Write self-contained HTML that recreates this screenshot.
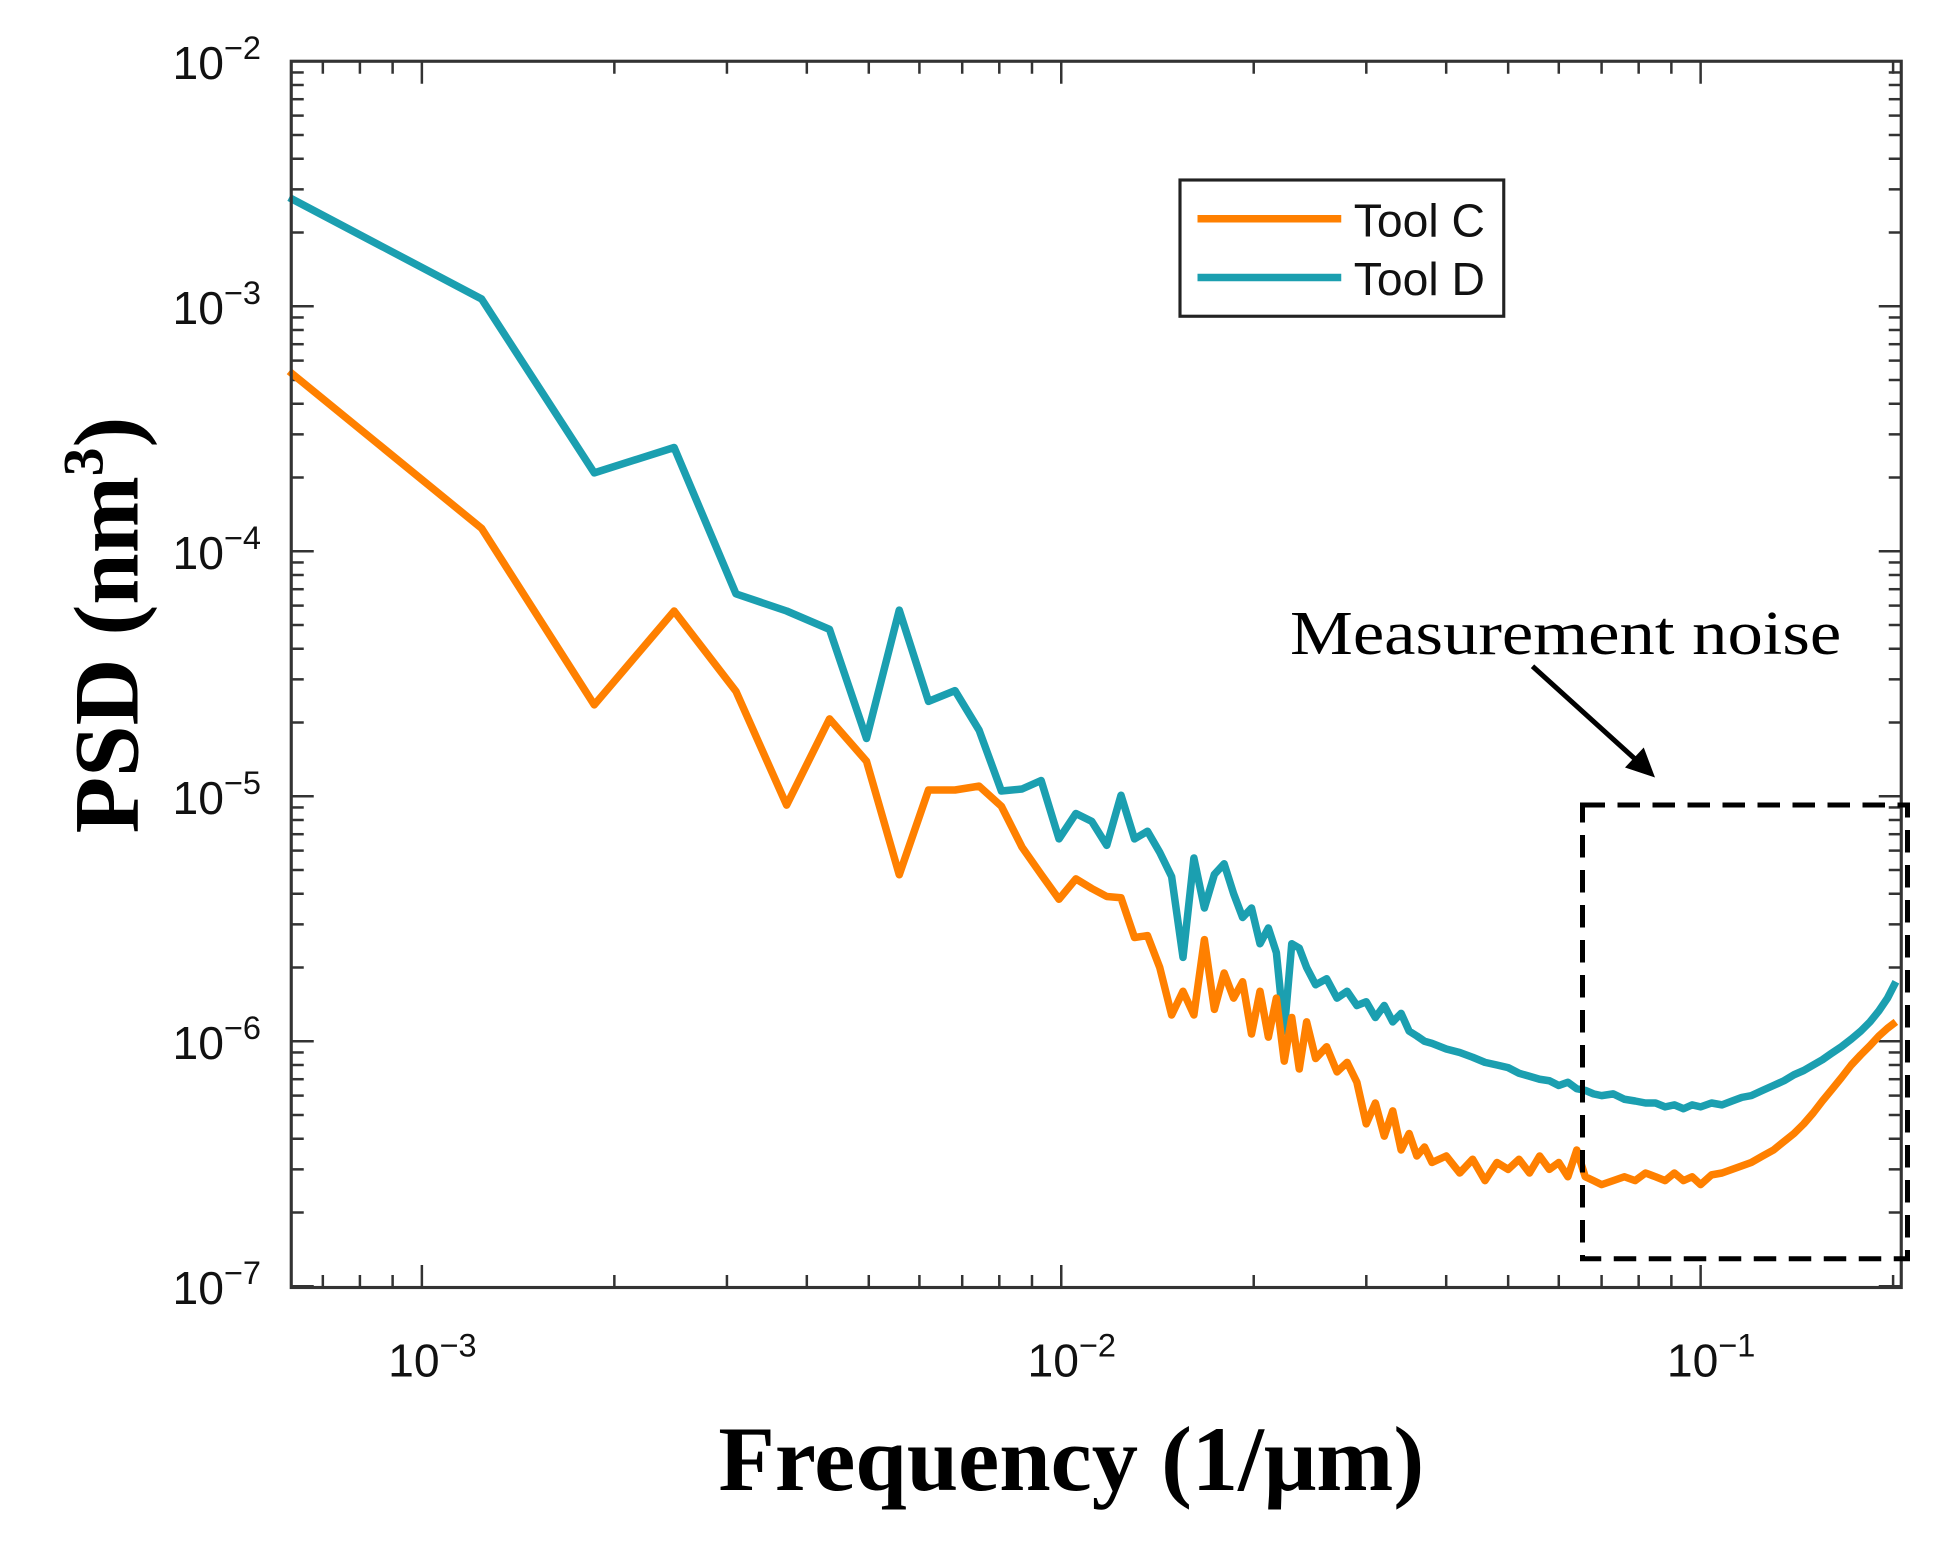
<!DOCTYPE html>
<html><head><meta charset="utf-8"><style>
html,body{margin:0;padding:0;background:#fff;}
svg{display:block;}
</style></head><body>
<svg id="chart" width="1950" height="1546" viewBox="0 0 1560 1236.8" xmlns="http://www.w3.org/2000/svg">
<rect width="1560" height="1236.8" fill="#fff"/>
<g id="ticks"></g>
<g id="series"></g>
<rect x="233" y="49" width="1288" height="981" fill="none" stroke="#333" stroke-width="2.5"/>
<g id="labels" font-family="Liberation Sans, sans-serif" font-size="37" fill="#111"></g>
<text x="857" y="1192" text-anchor="middle" font-family="Liberation Serif, serif" font-weight="bold" font-size="74">Frequency (1/μm)</text>
<text transform="translate(110,500) rotate(-90)" text-anchor="middle" font-family="Liberation Serif, serif" font-weight="bold" font-size="74">PSD (nm<tspan font-size="46" dy="-28">3</tspan><tspan dy="28">)</tspan></text>
<g>
<rect x="944" y="144" width="259" height="109" fill="#fff" stroke="#222" stroke-width="2.5"/>
<line x1="958" y1="175" x2="1073" y2="175" stroke="#ff8000" stroke-width="6"/>
<text x="1083" y="189" font-family="Liberation Sans, sans-serif" font-size="37" fill="#111">Tool C</text>
<line x1="958" y1="222" x2="1073" y2="222" stroke="#1b9fb0" stroke-width="6"/>
<text x="1083" y="236" font-family="Liberation Sans, sans-serif" font-size="37" fill="#111">Tool D</text>
</g>
<rect x="1266" y="644" width="260" height="363" fill="none" stroke="#000" stroke-width="4" stroke-dasharray="18,10"/>
<text x="1032" y="523" font-family="Liberation Serif, serif" font-size="50" textLength="441" lengthAdjust="spacingAndGlyphs" fill="#000">Measurement noise</text>
<line x1="1226" y1="533" x2="1310" y2="609" stroke="#000" stroke-width="4"/>
<polygon points="1324,622 1300,614 1315,598" fill="#000"/>
</svg>
<script>
// Tool C
const fC = [0.00062,0.00124,0.00186,0.00248,0.0031,0.00372,0.00434,0.00496,0.00558,0.0062,0.00682,0.00744,0.00806,0.00868,0.0093,0.00992,0.01054,0.01116,0.01178,0.0124,0.01302,0.01364,0.01426,0.01488,0.0155,0.01612,0.01674,0.01736,0.01798,0.0186,0.01922,0.01984,0.02046,0.02108,0.0217,0.02232,0.02294,0.02356,0.0242,0.025,0.026,0.027,0.028,0.029,0.030,0.031,0.032,0.033,0.034,0.035,0.036,0.037,0.038,0.040,0.042,0.044,0.046,0.048,0.050,0.052,0.054,0.056,0.058,0.060,0.062,0.064,0.066,0.068,0.070,0.073,0.076,0.079,0.082,0.085,0.088,0.091,0.094,0.097,0.100,0.104,0.108,0.112,0.116,0.120,0.125,0.130,0.135,0.140,0.145,0.150,0.155,0.160,0.166,0.172,0.178,0.184,0.190,0.196,0.202];
const vC = [5.43e-4,1.24e-4,2.36e-5,5.7e-5,2.68e-5,9.2e-6,2.07e-5,1.39e-5,4.78e-6,1.06e-5,1.06e-5,1.1e-5,9.1e-6,6.2e-6,4.8e-6,3.8e-6,4.6e-6,4.2e-6,3.9e-6,3.85e-6,2.65e-6,2.7e-6,2.0e-6,1.28e-6,1.6e-6,1.28e-6,2.6e-6,1.35e-6,1.9e-6,1.5e-6,1.75e-6,1.07e-6,1.6e-6,1.04e-6,1.5e-6,8.3e-7,1.25e-6,7.7e-7,1.2e-6,8.5e-7,9.5e-7,7.5e-7,8.2e-7,6.8e-7,4.6e-7,5.6e-7,4.1e-7,5.2e-7,3.6e-7,4.2e-7,3.4e-7,3.7e-7,3.2e-7,3.4e-7,2.9e-7,3.3e-7,2.7e-7,3.2e-7,3.0e-7,3.3e-7,2.9e-7,3.4e-7,3.0e-7,3.2e-7,2.8e-7,3.6e-7,2.8e-7,2.7e-7,2.6e-7,2.7e-7,2.8e-7,2.7e-7,2.9e-7,2.8e-7,2.7e-7,2.9e-7,2.7e-7,2.8e-7,2.6e-7,2.85e-7,2.9e-7,3.0e-7,3.1e-7,3.2e-7,3.4e-7,3.6e-7,3.9e-7,4.2e-7,4.6e-7,5.1e-7,5.7e-7,6.3e-7,7.1e-7,8.0e-7,8.8e-7,9.6e-7,1.05e-6,1.13e-6,1.2e-6];
// Tool D
const fD = [0.00062,0.00124,0.00186,0.00248,0.0031,0.00372,0.00434,0.00496,0.00558,0.0062,0.00682,0.00744,0.00806,0.00868,0.0093,0.00992,0.01054,0.01116,0.01178,0.0124,0.01302,0.01364,0.01426,0.01488,0.0155,0.01612,0.01674,0.01736,0.01798,0.0186,0.01922,0.01984,0.02046,0.02108,0.0217,0.02232,0.02294,0.02356,0.0242,0.025,0.026,0.027,0.028,0.029,0.030,0.031,0.032,0.033,0.034,0.035,0.036,0.037,0.038,0.040,0.042,0.044,0.046,0.048,0.050,0.052,0.054,0.056,0.058,0.060,0.062,0.064,0.066,0.068,0.070,0.073,0.076,0.079,0.082,0.085,0.088,0.091,0.094,0.097,0.100,0.104,0.108,0.112,0.116,0.120,0.125,0.130,0.135,0.140,0.145,0.150,0.155,0.160,0.166,0.172,0.178,0.184,0.190,0.196,0.202];
const vD = [2.78e-3,1.07e-3,2.09e-4,2.65e-4,6.7e-5,5.7e-5,4.8e-5,1.72e-5,5.75e-5,2.44e-5,2.7e-5,1.86e-5,1.05e-5,1.07e-5,1.16e-5,6.7e-6,8.5e-6,7.9e-6,6.3e-6,1.01e-5,6.7e-6,7.2e-6,5.9e-6,4.7e-6,2.2e-6,5.6e-6,3.5e-6,4.8e-6,5.3e-6,4.0e-6,3.2e-6,3.5e-6,2.5e-6,2.9e-6,2.3e-6,1.1e-6,2.5e-6,2.4e-6,2.0e-6,1.7e-6,1.8e-6,1.5e-6,1.6e-6,1.4e-6,1.45e-6,1.25e-6,1.4e-6,1.2e-6,1.3e-6,1.1e-6,1.05e-6,1.0e-6,9.8e-7,9.3e-7,9.0e-7,8.6e-7,8.2e-7,8.0e-7,7.8e-7,7.4e-7,7.2e-7,7.0e-7,6.9e-7,6.6e-7,6.8e-7,6.4e-7,6.3e-7,6.1e-7,6.0e-7,6.1e-7,5.8e-7,5.7e-7,5.6e-7,5.6e-7,5.4e-7,5.5e-7,5.3e-7,5.5e-7,5.4e-7,5.6e-7,5.5e-7,5.7e-7,5.9e-7,6.0e-7,6.3e-7,6.6e-7,6.9e-7,7.3e-7,7.6e-7,8.0e-7,8.4e-7,8.9e-7,9.5e-7,1.02e-6,1.1e-6,1.2e-6,1.33e-6,1.5e-6,1.75e-6];
const xTickLabels = ["−3","−2","−1"];
const xTickValues = [1e-3,1e-2,1e-1];
const yTickLabels = ["−2","−3","−4","−5","−6","−7"];
const yTickValues = [1e-2,1e-3,1e-4,1e-5,1e-6,1e-7];

const L=233,R=1521,T=49,B=1030;
function xs(f){return 849+511.5*(Math.log10(f)+2);}
function ys(p){return 49+196*(-2-Math.log10(p));}
const NS="http://www.w3.org/2000/svg";
function mk(tag,attrs,parent){const e=document.createElementNS(NS,tag);for(const k in attrs)e.setAttribute(k,attrs[k]);parent.appendChild(e);return e;}

const tg=document.getElementById('ticks');
for(let d=-4;d<=-1;d++){for(let m=1;m<=9;m++){const f=m*Math.pow(10,d);const x=xs(f);if(x<L||x>R)continue;const len=m===1?18:10;
const t1=mk('line',{x1:x,y1:B,x2:x,y2:B-len,stroke:'#333','stroke-width':2},tg);


const t2=mk('line',{x1:x,y1:T,x2:x,y2:T+len,stroke:'#333','stroke-width':2},tg);

}}
for(let d=-7;d<=-3;d++){for(let m=1;m<=9;m++){const p=m*Math.pow(10,d);const y=ys(p);if(y<T-1||y>B+1)continue;const len=m===1?18:10;
const t1=mk('line',{x1:L,y1:y,x2:L+len,y2:y,stroke:'#333','stroke-width':2},tg);


const t2=mk('line',{x1:R,y1:y,x2:R-len,y2:y,stroke:'#333','stroke-width':2},tg);

}}

const lg=document.getElementById('labels');
xTickValues.forEach((v,i)=>{const t=mk('text',{x:xs(v)-27,y:1101},lg);


t.textContent='10';const s=mk('tspan',{dy:-16,'font-size':26},t);s.textContent=xTickLabels[i];});
yTickValues.forEach((v,i)=>{const t=mk('text',{x:138,y:ys(v)+14},lg);


t.textContent='10';const s=mk('tspan',{dy:-16,'font-size':26},t);s.textContent=yTickLabels[i];});

const sg=document.getElementById('series');
function drawLine(fs,vs,color,name){const pts=fs.map((f,i)=>xs(f).toFixed(1)+','+ys(vs[i]).toFixed(1)).join(' ');
const pl=mk('polyline',{points:pts,fill:'none',stroke:color,'stroke-width':6,'stroke-linejoin':'round'},sg);

}
drawLine(fD,vD,'#1b9fb0','tool-d-line');
drawLine(fC,vC,'#ff8000','tool-c-line');
</script>
</body></html>
